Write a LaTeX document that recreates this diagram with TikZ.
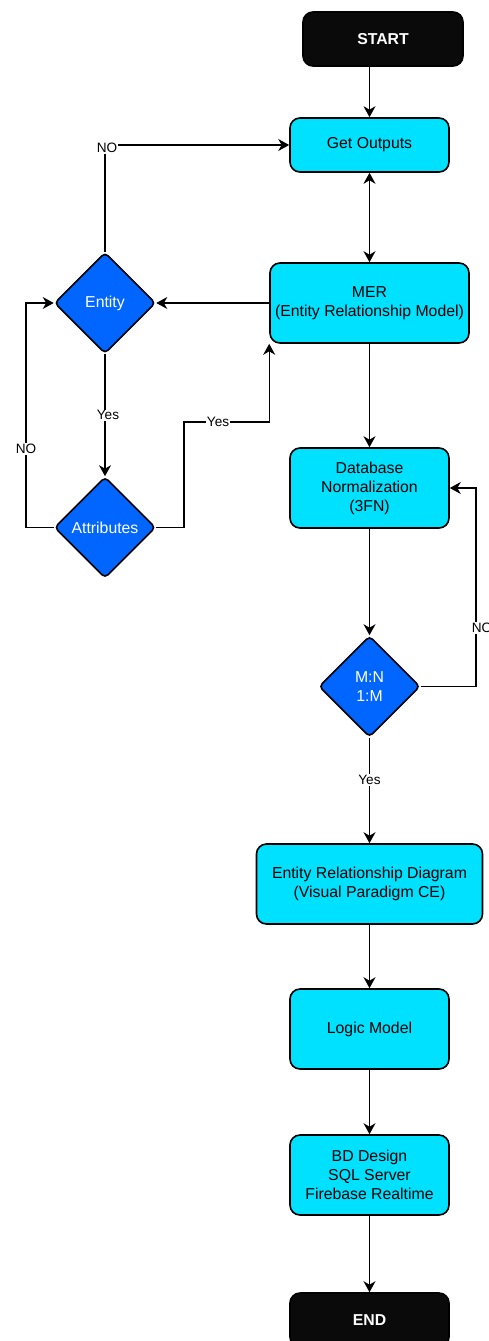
\documentclass[tikz,border=0pt]{standalone}
\usepackage{fontspec}
\setmainfont{Liberation Sans}
\usetikzlibrary{shapes.geometric,arrows.meta}
\definecolor{procfill}{HTML}{00E1FF}
\definecolor{decfill}{HTML}{0066FF}
\definecolor{termfill}{HTML}{0A0A0A}
\tikzset{
	>={Stealth[length=11pt,width=12pt,inset=3.5pt]},
	process/.style={draw=black, line width=1.6pt, rounded corners=10pt, fill=procfill, minimum width=159pt, minimum height=80pt, inner sep=0pt, align=center, font=\fontsize{15.8}{19}\selectfont},
	decision/.style={draw=black, line width=1.6pt, rounded corners=4pt, diamond, aspect=1, fill=decfill, minimum width=101pt, minimum height=101pt, inner sep=0pt, align=center, text=white, font=\fontsize{15.8}{19}\selectfont},
	terminal/.style={draw=black, line width=1.6pt, rounded corners=10pt, fill=termfill, minimum height=54pt, inner sep=0pt, text=white, font=\fontsize{15.8}{19}\selectfont\bfseries},
	conn/.style={line width=1.2pt, ->},
	lbl/.style={fill=white, inner sep=1pt, font=\fontsize{13.6}{16}\selectfont}
}
\begin{document}
\begin{tikzpicture}[x=1pt, y=-1pt]
			%%%%% FRAME %%%%%
			\useasboundingbox (0,0) rectangle (489,1341);
			
			%%%%% NODES %%%%%
			\node[terminal, minimum width=160pt] (start) at (383, 39) {START};
			\node[process, minimum height=54pt] (get) at (369.5, 145) {Get Outputs};
			\node[process, minimum width=199pt] (mer) at (369.5, 303) {MER\\(Entity Relationship Model)};
			\node[decision] (ent) at (105, 303) {Entity};
			\node[decision] (att) at (105, 527.5) {Attributes};
			\node[process] (norm) at (369.5, 488) {Database\\Normalization\\(3FN)};
			\node[decision] (mn) at (369.5, 686.5) {M:N\\1:M};
			\node[process, minimum width=226pt] (erd) at (369.5, 884) {Entity Relationship Diagram\\(Visual Paradigm CE)};
			\node[process] (logic) at (369.5, 1029) {Logic Model};
			\node[process] (bd) at (369.5, 1175) {BD Design\\SQL Server\\Firebase Realtime};
			\node[terminal, minimum width=159pt] (finish) at (369.5, 1320) {END};
			
			\coordinate (attyes) at (184, 422);
			\coordinate (attno) at (26, 449);
			\coordinate (mnno) at (476, 628);
			
			%%%%% CONNECTORS %%%%%
			\draw[conn] (start.south -| get.north) -- (get.north);
			\draw[line width=1.2pt, <->] (get.south) -- (mer.north);
			\draw[conn] (mer.west) -- (ent.east);
			\draw[conn] (ent.north) |- (get.west) node[lbl, pos=0.5, xshift=2pt, yshift=-3pt] {NO};
			\draw[conn] (ent.south) -- (att.north) node[lbl, midway, xshift=3pt] {Yes};
			\draw[conn] (att.east) -| (attyes) -| (mer.south west) node[lbl, pos=0.2] {Yes};
			\draw[conn] (att.west) -| (attno) node[lbl] {NO} |- (ent.west);
			\draw[conn] (mer.south) -- (norm.north);
			\draw[conn] (norm.south) -- (mn.north);
			\draw[conn] (mn.east) -| (mnno) node[lbl, xshift=6pt] {NO} |- (norm.east);
			\draw[conn] (mn.south) -- (erd.north) node[lbl, pos=0.4] {Yes};
			\draw[conn] (erd.south) -- (logic.north);
			\draw[conn] (logic.south) -- (bd.north);
			\draw[conn] (bd.south) -- (finish.north);
			
			%%%%% END %%%%%
\end{tikzpicture}
\end{document}
